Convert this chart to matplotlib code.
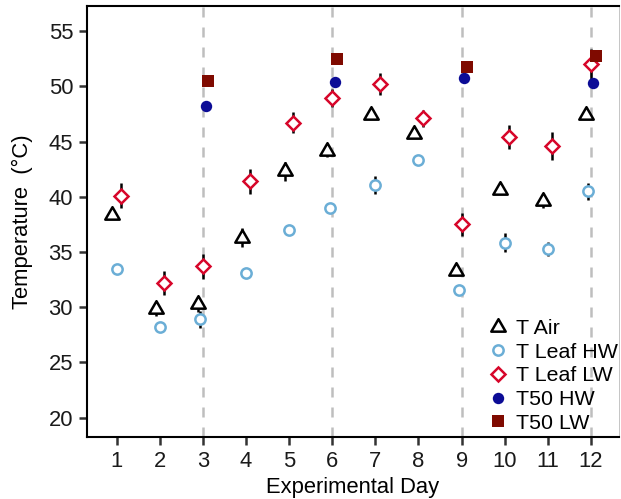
import numpy as np
import matplotlib
matplotlib.use('Agg')
import matplotlib.pyplot as plt
from matplotlib.path import Path
from matplotlib.lines import Line2D

plt.rcParams['font.family'] = ['Liberation Sans', 'DejaVu Sans']

# dados
dias = np.arange(1, 13)
t_air = [38.4, 29.85, 30.25, 36.3, 42.3, 44.2, 47.4, 45.7, 33.3, 40.6, 39.6, 47.45]
t_air_err = [0.3, 0.6, 0.7, 0.85, 0.85, 0.55, 0.3, 0.3, 0.3, 0.3, 0.6, 0.3]
t_leaf_hw = [33.5, 28.2, 28.9, 33.1, 37.0, 38.95, 41.1, 43.3, 31.6, 35.85, 35.3, 40.5]
t_leaf_hw_err = [0.3, 0.3, 0.75, 0.3, 0.3, 0.4, 0.8, 0.3, 0.4, 0.85, 0.65, 0.8]
t_leaf_lw = [40.1, 32.2, 33.7, 41.4, 46.7, 48.95, 50.25, 47.1, 37.5, 45.45, 44.6, 52.0]
t_leaf_lw_err = [1.15, 1.1, 1.1, 1.1, 0.95, 0.8, 1.0, 0.8, 1.0, 1.1, 1.25, 1.4]
dias_t50 = np.array([3, 6, 9, 12])
t50_hw = [48.2, 50.4, 50.8, 50.35]
t50_lw = [50.5, 52.45, 51.75, 52.75]

# posição com "dodge" (largura 0.3)
com_t50 = np.isin(dias, dias_t50)
off = lambda k: np.where(com_t50, (k - 2) * 0.06, (k - 1) * 0.1)

# triângulo centrado no centróide (como pch = 2 do R)
tri = Path([(0, 1), (-0.866, -0.5), (0.866, -0.5), (0, 1)],
           [Path.MOVETO, Path.LINETO, Path.LINETO, Path.CLOSEPOLY])

fig = plt.figure(figsize=(6.21, 4.99), dpi=100)
ax = fig.add_axes([87 / 621, 1 - 437.3 / 499, (618.5 - 87) / 621, (437.3 - 6) / 499])

for d in dias_t50:
    ax.axvline(d, color='#BEBEBE', lw=1.8, linestyle=(0, (4, 4)), zorder=1)

ax.errorbar(dias + off(0), t_air, yerr=t_air_err, fmt='none', ecolor='black', elinewidth=1.8, zorder=2)
ax.errorbar(dias + off(1), t_leaf_hw, yerr=t_leaf_hw_err, fmt='none', ecolor='black', elinewidth=1.8, zorder=2)
ax.errorbar(dias + off(2), t_leaf_lw, yerr=t_leaf_lw_err, fmt='none', ecolor='black', elinewidth=1.8, zorder=2)

estilo = [
    dict(marker=tri, ms=12, mfc='white', mec='black', mew=1.8, label='T Air'),
    dict(marker='o', ms=7.4, mfc='white', mec='#6BAED6', mew=1.8, label='T Leaf HW'),
    dict(marker='D', ms=6.8, mfc='white', mec='#D7062A', mew=1.8, label='T Leaf LW'),
    dict(marker='o', ms=8.2, mfc='#0C0C96', mec='#0C0C96', mew=0, label='T50 HW'),
    dict(marker='s', ms=9.0, mfc='#7F0A00', mec='#7F0A00', mew=0, label='T50 LW'),
]

ax.plot(dias + off(0), t_air, ls='none', zorder=3, **estilo[0])
ax.plot(dias + off(1), t_leaf_hw, ls='none', zorder=3, **estilo[1])
ax.plot(dias + off(2), t_leaf_lw, ls='none', zorder=3, **estilo[2])
ax.plot(dias_t50 + 0.06, t50_hw, ls='none', zorder=3, **estilo[3])
ax.plot(dias_t50 + 0.12, t50_lw, ls='none', zorder=3, **estilo[4])

ax.set_xlim(0.31, 12.64)
ax.set_ylim(18.22, 57.29)
ax.set_xticks(dias)
ax.set_yticks(np.arange(20, 56, 5))
ax.tick_params(axis='both', labelsize=15.8, length=5.5, width=1.8, color='#333333',
               labelcolor='#1a1a1a', pad=4.5)

for lado in ['left', 'bottom', 'top']:
    ax.spines[lado].set_linewidth(1.5)
    ax.spines[lado].set_color('black')
ax.spines['right'].set_linewidth(0.6)
ax.spines['right'].set_color('#BBBBBB')

ax.set_xlabel('Experimental Day', fontsize=15.8, labelpad=3.5)
ax.set_ylabel('Temperature  (°C)', fontsize=15.8, labelpad=11)

handles = [Line2D([], [], ls='none', **e) for e in estilo]
fig.legend(handles=handles, loc='upper left', bbox_to_anchor=(488.3 / 621, 1 - 319 / 499),
           frameon=False, fontsize=15.4, handlelength=0.9, handletextpad=0.4,
           labelspacing=0.22, borderpad=0, borderaxespad=0)

plt.savefig('out.png', dpi=100)
